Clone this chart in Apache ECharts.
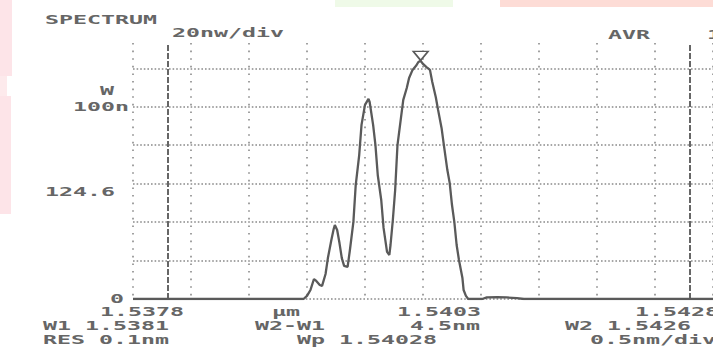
<!DOCTYPE html>
<html>
<head>
<meta charset="utf-8">
<script src="https://cdn.jsdelivr.net/npm/echarts@6/dist/echarts.min.js"></script>
<style>
html,body{margin:0;padding:0;background:#fff;}
#c{width:713px;height:348px;}
</style>
</head>
<body>
<div id="c"></div>
<script>
// ---- data ----
const X_START = 1.5378;          // µm at left edge
const X_DIV = 0.0005;            // µm per division (0.5 nm/div)
const Y_DIV = 20;                // nW per division
const wavelengths = [1.5378,1.53927,1.53930,1.53933,1.53936,1.53938,1.53941,1.53943,1.53946,1.53948,1.53951,1.53953,1.53954,1.53956,1.53958,1.53960,1.53962,1.53965,1.53967,1.53970,1.53972,1.53975,1.53977,1.53980,1.53983,1.53984,1.53987,1.53989,1.53991,1.53994,1.53996,1.53999,1.54001,1.54002,1.54004,1.54006,1.54008,1.54011,1.54013,1.54016,1.54018,1.54021,1.54024,1.54026,1.54028,1.54030,1.54033,1.54036,1.54038,1.54041,1.54043,1.54046,1.54048,1.54051,1.54053,1.54055,1.54057,1.54059,1.54061,1.54064,1.54065,1.54067,1.54069,1.54081,1.54085,1.54094,1.54102,1.54111,1.54117,1.5428];
const powerNW = [0,0,1.6,4.7,10.4,9.4,7.3,6.8,13.0,21.3,30.7,36.4,38.5,35.9,29.1,21.3,17.2,16.7,25.5,40.1,59.3,74.9,90.6,101.0,104.1,102.5,90.6,80.1,64.5,51.5,37.0,24.5,22.9,28.1,41.1,56.7,80.1,94.2,103.6,109.8,115.0,119.2,121.3,123.3,123.9,122.3,120.7,119.2,112.9,105.1,98.4,89.0,80.1,67.1,60.4,48.9,40.1,28.1,20.3,10.9,4.7,1.6,0,0,0.8,1.0,0.8,0.5,0,0];
const markerW1 = 1.5381;
const markerW2 = 1.5426;
const peakWp = 1.54028;
const peakPower = 123.9;
const xTickLabels = ['1.5378','1.5403','1.5428'];
const yTickLabels = ['100n','0'];
const headerTexts = ['SPECTRUM','20nw/div','AVR','1','W','124.6','μm'];
const footerTexts = ['W1 1.5381','W2-W1','4.5nm','W2 1.5426','RES 0.1nm','Wp 1.54028','0.5nm/div'];

// ---- build ----
const toDiv = l => (l - X_START) / X_DIV;
const seriesData = wavelengths.map((l,i) => [toDiv(l), powerNW[i]]);

const INK = '#5a5a5a';
const TXT = '#666666';
const FONT = '13px "DejaVu Sans Mono"';
const SX = 1.79;
function txt(s, x, y){
  return {type:'text', x:x, y:y, scaleX:SX, scaleY:1, silent:true, z:100,
    style:{text:s, font:'bold '+FONT, fill:TXT, align:'left', verticalAlign:'middle', textAlign:'left', textVerticalAlign:'middle'}};
}
const textPos = {
  'SPECTRUM':[45,20], '20nw/div':[172,33], 'AVR':[608,35], '1':[707,35], 'W':[100,91], '124.6':[45,192], 'μm':[272,312],
  'W1 1.5381':[43,326], 'W2-W1':[255,326], '4.5nm':[410,326], 'W2 1.5426':[565,326],
  'RES 0.1nm':[43,340], 'Wp 1.54028':[297,340], '0.5nm/div':[590,340]
};
const xTickPos = [[100,312],[397,312],[635,312]];
const yTickPos = [[73,107],[110,299]];

const elements = [
  {type:'rect', shape:{x:0,y:0,width:12,height:76}, style:{fill:'#fde4e8'}, silent:true, z:0},
  {type:'rect', shape:{x:0,y:76,width:7,height:20}, style:{fill:'#fdeaec'}, silent:true, z:0},
  {type:'rect', shape:{x:0,y:96,width:11,height:118}, style:{fill:'#fde4e8'}, silent:true, z:0},
  {type:'rect', shape:{x:335,y:0,width:118,height:7}, style:{fill:'#effae8'}, silent:true, z:0},
  {type:'rect', shape:{x:500,y:0,width:213,height:7}, style:{fill:'#fddcd6'}, silent:true, z:0}
];
headerTexts.concat(footerTexts).forEach(s => { const p = textPos[s]; elements.push(txt(s,p[0],p[1])); });
xTickLabels.forEach((s,i) => elements.push(txt(s, xTickPos[i][0], xTickPos[i][1])));
yTickLabels.forEach((s,i) => elements.push(txt(s, yTickPos[i][0], yTickPos[i][1])));

const chart = echarts.init(document.getElementById('c'), null, {renderer:'svg'});
chart.setOption({
  animation:false,
  backgroundColor:'#ffffff',
  grid:{left:133, right:-5, top:43, bottom:49},
  xAxis:{type:'value', min:0, max:10, interval:1,
    axisLine:{show:false}, axisTick:{show:false}, axisLabel:{show:false},
    splitLine:{show:true, showMinLine:true, showMaxLine:true, lineStyle:{color:'#8a8a8a', width:1.6, type:[1.6,6]}}},
  yAxis:{type:'value', min:0, max:133.2, interval:Y_DIV,
    axisLine:{show:false}, axisTick:{show:false}, axisLabel:{show:false},
    splitLine:{show:true, showMinLine:true, showMaxLine:false, lineStyle:{color:'#8a8a8a', width:1.6, type:[1.6,2]}}},
  series:[{
    type:'line', data:seriesData, showSymbol:false, symbol:'none', smooth:false,
    lineStyle:{color:INK, width:2.3}, z:5,
    markLine:{silent:true, symbol:'none', label:{show:false},
      lineStyle:{color:'#666', width:2, type:[6,2]},
      data:[{xAxis:toDiv(markerW1)},{xAxis:toDiv(markerW2)}]},
    markPoint:{silent:true, symbol:'triangle', symbolSize:[15,9], symbolRotate:180, symbolOffset:[0,-5],
      itemStyle:{color:'#ffffff', borderColor:INK, borderWidth:1.5}, label:{show:false},
      data:[{coord:[toDiv(peakWp), peakPower]}]}
  }],
  graphic:{elements:elements}
});
</script>
</body>
</html>
